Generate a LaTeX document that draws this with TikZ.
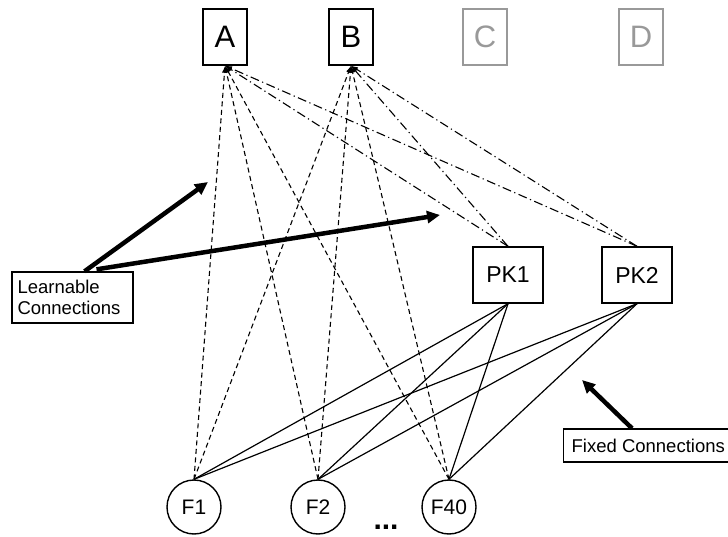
\documentclass[tikz,border=0pt]{standalone}
\usepackage{fontspec}
\setmainfont{Liberation Sans}
\usetikzlibrary{arrows.meta}
\definecolor{lightgr}{HTML}{999999}
\begin{document}
\begin{tikzpicture}[x=1pt,y=-1pt,
  outbox/.style={draw,line width=1.4pt,minimum width=44pt,minimum height=56pt,inner sep=0pt,font=\fontsize{31}{34}\selectfont},
  greybox/.style={outbox,draw=lightgr,text=lightgr},
  pkbox/.style={draw,line width=1.4pt,minimum width=70pt,minimum height=56pt,inner sep=0pt,font=\fontsize{23}{26}\selectfont},
  fcirc/.style={draw,circle,line width=1.4pt,minimum size=54pt,inner sep=0pt,font=\fontsize{21}{24}\selectfont},
  notebox/.style={draw,line width=1.3pt,inner sep=0pt,font=\fontsize{18.5}{20.5}\selectfont},
  learn/.style={line width=1.1pt,dash pattern=on 5pt off 3.5pt,-{Latex[length=7pt,width=5pt]}},
  pkl/.style={line width=1.1pt,dash pattern=on 9pt off 3.5pt on 1.2pt off 3.5pt,-{Latex[length=7pt,width=5pt]}},
  fixed/.style={line width=1.2pt},
  bigarrow/.style={line width=4.5pt,-{Triangle[length=13pt,width=12pt]}}
]
\useasboundingbox (0,0) rectangle (728,537);
\node[outbox] (A) at (225,37) {A};
\node[outbox] (B) at (351,37) {B};
\node[greybox] (C) at (485,37) {C};
\node[greybox] (D) at (641,37) {D};
\node[pkbox] (PK1) at (508,275) {PK1};
\node[pkbox] (PK2) at (637,275) {PK2};
\node[fcirc] (F1) at (194,507) {F1};
\node[fcirc] (F2) at (318,507) {F2};
\node[fcirc] (F40) at (449,507) {F40};
\node[font=\fontsize{30}{30}\selectfont\bfseries] (dots) at (386,527) {...};
\node[notebox,minimum width=121pt,minimum height=51pt,align=left,text width=110pt] (L) at (72.5,297.5) {Learnable\\Connections};
\node[notebox,minimum height=33pt,anchor=west,inner xsep=8pt] (FX) at (563,445.5) {Fixed Connections};
\coordinate (t1) at (208,182);
\coordinate (t2) at (440,215);
\coordinate (t3) at (582,380);
% learnable connections
\foreach \f in {F1,F2,F40}{
  \draw[learn] (\f.north) -- (A.south);
  \draw[learn] (\f.north) -- (B.south);
}
\foreach \p in {PK1,PK2}{
  \draw[pkl] (\p.north) -- (A.south);
  \draw[pkl] (\p.north) -- (B.south);
}
% fixed connections
\foreach \p in {PK1,PK2}{
  \foreach \f in {F1,F2,F40}{
    \draw[fixed] (\p.south) -- (\f.north);
  }
}
\draw[bigarrow] ([xshift=12pt]L.north) -- (t1);
\draw[bigarrow] ([xshift=24pt,yshift=2pt]L.north) -- (t2);
\draw[bigarrow] ([xshift=69pt]FX.north west) -- (t3);
\end{tikzpicture}
\end{document}
